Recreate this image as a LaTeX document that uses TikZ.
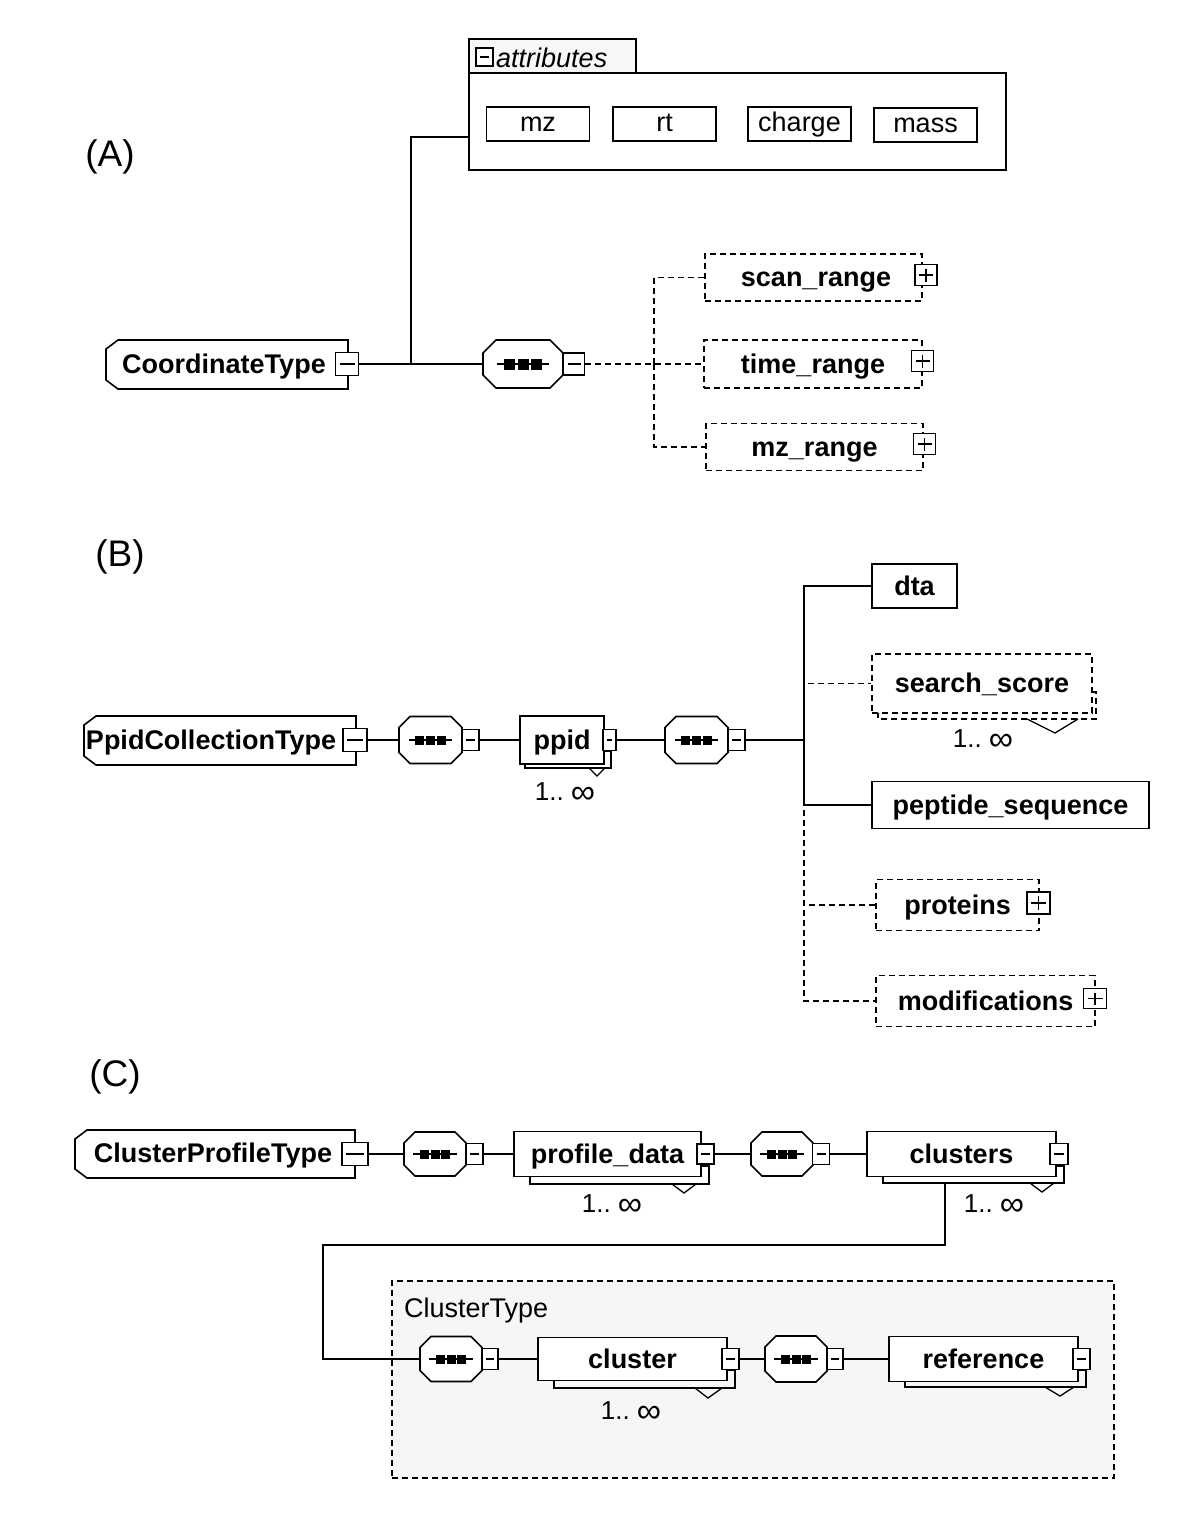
\documentclass[tikz,border=0pt]{standalone}
\usepackage{fontspec}
\setmainfont{Liberation Sans}
\newcommand\elfont{\fontsize{27}{32}\selectfont\bfseries}
\newcommand\regfont{\fontsize{27}{32}\selectfont}
\newcommand\multfont{\fontsize{26}{30}\selectfont}
\newcommand\lblfont{\fontsize{37}{44}\selectfont}
\newcommand\infsym{\raisebox{-3pt}{\fontsize{34}{34}\selectfont ∞}}
\tikzset{
  el/.style={draw, line width=1.6pt, fill=white, inner sep=0pt, font=\elfont, text height=21pt, text depth=3pt},
  optel/.style={el, dash pattern=on 6pt off 4pt},
  pm/.style={draw, line width=1.3pt, fill=white, inner sep=0pt},
  seqn/.style={inner sep=0pt},
  seqshape/.style={draw, line width=1.6pt, fill=white},
  ctshape/.style={draw, line width=1.6pt, fill=white},
  con/.style={line width=1.5pt},
  dcon/.style={line width=1.5pt, dash pattern=on 6pt off 4pt},
  thin/.style={line width=1.3pt},
  attrbox/.style={draw, line width=1.5pt, inner sep=0pt, minimum height=34pt, minimum width=103pt, font=\regfont, text height=19pt, text depth=4pt},
  mult/.style={inner sep=0pt, font=\multfont},
  lbl/.style={inner sep=0pt, font=\lblfont}
}
% minus box: name, x, y, w, h
\newcommand\minusbx[5]{%
  \node[pm, minimum width=#4pt, minimum height=#5pt] (#1) at (#2,#3) {};
  \draw[thin] ({#2-#4/2+4},#3) -- ({#2+#4/2-4},#3);}
\newcommand\plusbx[5]{%
  \node[pm, minimum width=#4pt, minimum height=#5pt] (#1) at (#2,#3) {};
  \draw[thin] ({#2-#4/2+4},#3) -- ({#2+#4/2-4},#3);
  \draw[thin] (#2,{#3-#5/2+4}) -- (#2,{#3+#5/2-4});}
% sequence compositor: name, cx, cy, w, h, chamfer, square size
\newcommand\seqc[7]{%
  \node[seqn, minimum width=#4pt, minimum height=#5pt] (#1) at (#2,#3) {};
  \draw[seqshape] ({#2-#4/2+#6},{#3-#5/2}) -- ({#2+#4/2-#6},{#3-#5/2}) -- ({#2+#4/2},{#3-#5/2+#6})
    -- ({#2+#4/2},{#3+#5/2-#6}) -- ({#2+#4/2-#6},{#3+#5/2}) -- ({#2-#4/2+#6},{#3+#5/2})
    -- ({#2-#4/2},{#3+#5/2-#6}) -- ({#2-#4/2},{#3-#5/2+#6}) -- cycle;
  \draw[thin] ({#2-2.4*#7},#3) -- ({#2+2.4*#7},#3);
  \foreach \k in {-1,0,1} {\fill ({#2+\k*1.2*#7-#7/2},{#3-#7/2}) rectangle ({#2+\k*1.2*#7+#7/2},{#3+#7/2});}}
% complex type: name, x0, y0, x1, y1, text cx, text
\newcommand\ctype[7]{%
  \draw[ctshape] ({#2+12},#3) -- (#4,#3) -- (#4,#5) -- ({#2+12},#5) -- (#2,{#5-9}) -- (#2,{#3+9}) -- cycle;
  \node[inner sep=0pt, font=\elfont] (#1) at (#6,{(#3+#5)/2+2}) {#7};}
\begin{document}
\begin{tikzpicture}[x=1pt, y=-1pt]
\useasboundingbox (0,0) rectangle (1200,1527);

%% ---------------- (A)
\node[lbl] (labA) at (110,157) {(A)};
\node[draw, line width=1.5pt, fill=gray!6, minimum width=167pt, minimum height=34pt, inner sep=0pt] (attrtab) at (552.5,56) {};
\node[draw, line width=1.5pt, minimum width=537pt, minimum height=97pt, inner sep=0pt] (attr) at (737.5,121.5) {};
\minusbx{attrm}{484.5}{57}{17}{18}
\node[anchor=west, inner sep=0pt, font=\regfont\itshape] (attrlbl) at (496,58) {attributes};
\node[attrbox] (mz) at (538,124) {mz};
\node[attrbox] (rt) at (664.5,124) {rt};
\node[attrbox] (charge) at (799.5,124) {charge};
\node[attrbox] (mass) at (925.5,125) {mass};

\ctype{ctA}{106}{340}{348}{389}{224}{CoordinateType}
\minusbx{ctAm}{347}{364}{23}{23}
\seqc{seqA}{523}{364}{80}{48}{13}{11}
\minusbx{seqAm}{574}{364}{21}{22}
\coordinate (aj) at (411,364);
\coordinate (attrin) at (469,137);
\draw[con] (ctAm.east) -- (seqA.west);
\draw[con] (aj) |- (attrin);

\node[optel, minimum width=217pt, minimum height=47pt] (scanr) at (813.5,277.5) {\hspace{5pt}scan\_range};
\plusbx{scanp}{926}{275}{22}{21}
\node[optel, minimum width=218pt, minimum height=48pt] (timer) at (813,364) {time\_range\hspace{10pt}};
\plusbx{timep}{922.5}{361}{22}{21}
\node[optel, minimum width=217pt, minimum height=47pt] (mzr) at (814.5,447) {mz\_range\hspace{19pt}};
\plusbx{mzp}{924.5}{444}{22}{21}
\coordinate (bA) at (654,364);
\draw[dcon] (seqAm.east) -- (timer.west);
\draw[dcon] (bA) |- (scanr.west);
\draw[dcon] (bA) |- (mzr.west);

%% ---------------- (B)
\node[lbl] (labB) at (120,557) {(B)};
\ctype{ctB}{84}{716}{356}{765}{211}{PpidCollectionType}
\minusbx{ctBm}{355}{740}{24}{23}
\seqc{seqB1}{430.5}{740}{63}{47}{11}{9}
\minusbx{seqB1m}{470.5}{740}{17}{21}
\draw[line width=1.6pt] (604,751) -- (611,751) -- (611,768) -- (525,768) -- (525,764);
\node[el, minimum width=84pt, minimum height=48pt] (ppid) at (562,740) {ppid};
\minusbx{ppidm}{609.5}{740}{13}{21}
\draw[thin] (589,768) -- (597,776) -- (605,768);
\node[mult] (ppidmult) at (565,793) {1..\ \infsym};
\seqc{seqB2}{696.5}{740}{63}{47}{11}{9}
\minusbx{seqB2m}{736.5}{740}{17}{21}
\coordinate (bB) at (804,740);
\draw[con] (ctBm.east) -- (seqB1.west);
\draw[con] (seqB1m.east) -- (ppid.west);
\draw[con] (ppidm.east) -- (seqB2.west);
\draw[con] (seqB2m.east) -- (bB);

\node[el, minimum width=85pt, minimum height=44pt] (dta) at (914.5,586) {dta\hspace{12pt}};
\draw[line width=1.6pt, dash pattern=on 6pt off 4pt] (1092,692) -- (1096,692) -- (1096,719) -- (878,719) -- (878,713);
\node[optel, minimum width=220pt, minimum height=59pt] (ss) at (982,683.5) {search\_score\hspace{22pt}};
\draw[thin] (1027,719) -- (1055,733) -- (1078,719);
\node[mult] (ssmult) at (983,740) {1..\ \infsym};
\node[el, minimum width=277pt, minimum height=47pt] (pep) at (1010.5,805) {peptide\_sequence};
\node[optel, minimum width=163pt, minimum height=51pt] (prot) at (957.5,905) {proteins\hspace{7pt}};
\plusbx{protp}{1038.5}{903}{23}{22}
\node[optel, minimum width=219pt, minimum height=51pt] (mods) at (985.5,1001) {modifications\hspace{11pt}};
\plusbx{modsp}{1095}{998.5}{23}{20}
\draw[con] (bB) |- (dta.west);
\draw[con] (bB) |- (pep.west);
\draw[dcon] (bB) |- (ss.west);
\draw[dcon] (bB) |- (prot.west);
\draw[dcon] (bB) |- (mods.west);

%% ---------------- (C)
\node[lbl] (labC) at (115,1077) {(C)};
\node[draw, line width=1.5pt, dash pattern=on 6pt off 4pt, fill=gray!7, minimum width=722pt, minimum height=197pt, inner sep=0pt] (ctyp) at (753,1379.5) {};
\node[anchor=west, inner sep=0pt, font=\regfont] (ctlbl) at (404,1311) {ClusterType};

\ctype{ctC}{75}{1130}{355}{1178}{213}{ClusterProfileType}
\minusbx{ctCm}{355}{1154}{26}{23}
\seqc{seqC1}{435}{1154}{62}{44}{11}{9}
\minusbx{seqC1m}{474.5}{1154}{17}{21}
\draw[line width=1.6pt] (701,1166) -- (709,1166) -- (709,1184) -- (530,1184) -- (530,1177);
\node[el, minimum width=187pt, minimum height=45pt] (pd) at (607.5,1154) {profile\_data};
\minusbx{pdm}{705.5}{1154}{17}{20}
\draw[thin] (672,1184) -- (684,1193) -- (696,1184);
\node[mult] (pdmult) at (612,1205) {1..\ \infsym};
\seqc{seqC2}{782}{1154}{62}{44}{11}{9}
\minusbx{seqC2m}{821}{1154}{17}{21}
\draw[line width=1.6pt] (1056,1166) -- (1064,1166) -- (1064,1183) -- (883,1183) -- (883,1176);
\node[el, minimum width=189pt, minimum height=45pt] (cls) at (961.5,1154) {clusters};
\minusbx{clsm}{1059}{1154}{18}{21}
\draw[thin] (1030,1183) -- (1042,1192) -- (1054,1183);
\node[mult] (clsmult) at (994,1205) {1..\ \infsym};
\draw[con] (ctCm.east) -- (seqC1.west);
\draw[con] (seqC1m.east) -- (pd.west);
\draw[con] (pdm.east) -- (seqC2.west);
\draw[con] (seqC2m.east) -- (cls.west);

\seqc{seqD1}{451}{1359}{62}{45}{11}{9}
\minusbx{seqD1m}{490}{1359}{16}{21}
\draw[line width=1.6pt] (727,1370) -- (735,1370) -- (735,1388) -- (554,1388) -- (554,1381);
\node[el, minimum width=189pt, minimum height=43pt] (clu) at (632.5,1359) {cluster};
\minusbx{clum}{730.5}{1359}{17}{21}
\draw[thin] (695,1388) -- (708,1398) -- (722,1388);
\node[mult] (clumult) at (631,1412) {1..\ \infsym};
\seqc{seqD2}{796}{1359}{62}{46}{11}{9}
\minusbx{seqD2m}{835}{1359}{16}{21}
\draw[line width=1.6pt] (1078,1370) -- (1086,1370) -- (1086,1387) -- (905,1387) -- (905,1381);
\node[el, minimum width=189pt, minimum height=45pt] (ref) at (983.5,1359) {reference};
\minusbx{refm}{1081.5}{1359}{17}{21}
\draw[thin] (1045,1387) -- (1060,1396) -- (1074,1387);
\coordinate (clout) at (945,1183);
\coordinate (bend) at (323,1245);
\draw[con] (clout) |- (bend) |- (seqD1.west);
\draw[con] (seqD1m.east) -- (clu.west);
\draw[con] (clum.east) -- (seqD2.west);
\draw[con] (seqD2m.east) -- (ref.west);
\end{tikzpicture}
\end{document}
